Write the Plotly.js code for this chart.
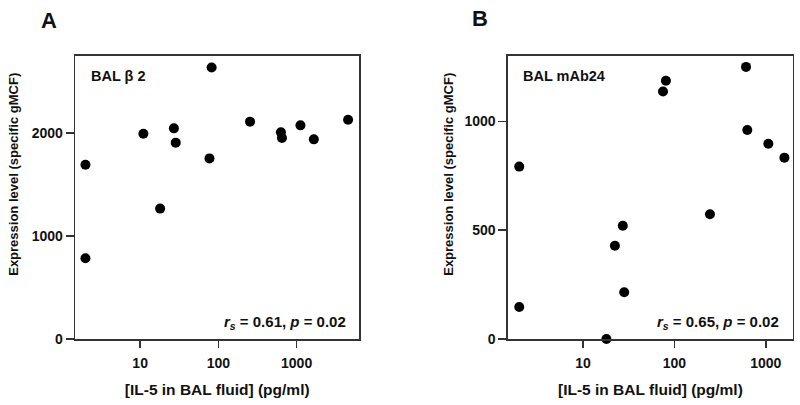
<!DOCTYPE html>
<html>
<head>
<meta charset="utf-8">
<script src="https://cdn.plot.ly/plotly-3.0.1.min.js"></script>
<style>html,body{margin:0;padding:0;background:#fff}#chart{width:800px;height:405px}</style>
</head>
<body>
<div id="chart"></div>
<script>
// Panel A: BAL beta2
const il5A = [2, 2, 11, 18, 27, 28.5, 77, 82, 254, 630, 650, 1120, 1660, 4550];
const exprA = [1694, 784, 1995, 1267, 2047, 1908, 1755, 2639, 2112, 2008, 1953, 2076, 1940, 2131];
// Panel B: BAL mAb24
const il5B = [2, 2, 18, 22.3, 27.2, 28.2, 75, 80.7, 245, 608, 628, 1067, 1600];
const exprB = [792, 147, 0, 428, 520, 215, 1137, 1186, 573, 1250, 960, 897, 833];

const xTickVals = [10, 100, 1000];
const xTickText = ['10', '100', '1000'];
const yTickA = [0, 1000, 2000];
const yTickB = [0, 500, 1000];

const panelLabels = ['A', 'B'];
const boxLabels = ['BAL \u03b2 2', 'BAL mAb24'];
const statLabels = ['<i>r<sub>s</sub></i> = 0.61, <i>p</i> = 0.02', '<i>r<sub>s</sub></i> = 0.65, <i>p</i> = 0.02'];
const xTitle = '[IL-5 in BAL fluid] (pg/ml)';
const yTitle = 'Expression level (specific gMCF)';

const FONT = 'Liberation Sans, Arial, Helvetica, sans-serif';
const INK = '#111';
const LINE = '#333';

const marker = {color: '#000', size: 10};
const traces = [
  {x: il5A, y: exprA, type: 'scatter', mode: 'markers', marker: marker, xaxis: 'x', yaxis: 'y', cliponaxis: false, hoverinfo: 'x+y'},
  {x: il5B, y: exprB, type: 'scatter', mode: 'markers', marker: marker, xaxis: 'x2', yaxis: 'y2', cliponaxis: false, hoverinfo: 'x+y'}
];

function xAxis(domain, range, anchor) {
  return {
    type: 'log', domain: domain, range: range, anchor: anchor,
    tickvals: xTickVals, ticktext: xTickText,
    ticks: 'outside', ticklen: 7, tickwidth: 1.5, tickcolor: LINE,
    ticklabelstandoff: 4,
    showline: true, linecolor: LINE, linewidth: 1.6, mirror: true,
    showgrid: false, zeroline: false,
    tickfont: {family: FONT, size: 14, color: INK, weight: 'bold'},
    title: {text: xTitle, standoff: 14, font: {family: FONT, size: 15.5, color: INK, weight: 'bold'}}
  };
}
function yAxis(range, ticks, anchor) {
  return {
    domain: [0, 1], range: range, anchor: anchor,
    tickvals: ticks,
    ticks: 'outside', ticklen: 8, tickwidth: 1.5, tickcolor: LINE,
    showline: true, linecolor: LINE, linewidth: 1.6, mirror: true,
    showgrid: false, zeroline: false,
    tickfont: {family: FONT, size: 14, color: INK, weight: 'bold'}
  };
}
function yTitleAnn(xpx) {
  return {text: yTitle, xref: 'paper', yref: 'paper', x: xpx / 800, y: (339.5 - 175) / 283.5,
    xanchor: 'center', yanchor: 'middle', textangle: -90, showarrow: false,
    font: {family: FONT, size: 13, color: INK, weight: 'bold'}};
}
const statFont = {family: FONT, size: 15, color: INK, weight: 'bold'};

const layout = {
  width: 800, height: 405,
  margin: {l: 0, r: 0, t: 56, b: 66},
  paper_bgcolor: '#fff', plot_bgcolor: '#fff',
  showlegend: false,
  xaxis: xAxis([0.094, 0.449], [0.17, 3.80], 'y'),
  yaxis: yAxis([0, 2750], yTickA, 'x'),
  xaxis2: xAxis([0.635, 0.991], [0.178, 3.296], 'y2'),
  yaxis2: yAxis([0, 1300], yTickB, 'x2'),
  annotations: [
    yTitleAnn(14),
    yTitleAnn(449),
    {text: panelLabels[0], xref: 'paper', yref: 'paper', x: 48.5 / 800, y: 1.127, xanchor: 'center', yanchor: 'middle', showarrow: false, font: {family: FONT, size: 22, color: INK, weight: 'bold'}},
    {text: panelLabels[1], xref: 'paper', yref: 'paper', x: 479.5 / 800, y: 1.134, xanchor: 'center', yanchor: 'middle', showarrow: false, font: {family: FONT, size: 22, color: INK, weight: 'bold'}},
    {text: boxLabels[0], xref: 'x domain', yref: 'y domain', x: 0.05, y: 0.93, xanchor: 'left', yanchor: 'middle', showarrow: false, font: {family: FONT, size: 14.5, color: INK, weight: 'bold'}},
    {text: boxLabels[1], xref: 'x2 domain', yref: 'y2 domain', x: 0.045, y: 0.93, xanchor: 'left', yanchor: 'middle', showarrow: false, font: {family: FONT, size: 14.5, color: INK, weight: 'bold'}},
    {text: statLabels[0], xref: 'x domain', yref: 'y domain', x: 0.96, y: 0.06, xanchor: 'right', yanchor: 'middle', showarrow: false, font: statFont},
    {text: statLabels[1], xref: 'x2 domain', yref: 'y2 domain', x: 0.96, y: 0.06, xanchor: 'right', yanchor: 'middle', showarrow: false, font: statFont}
  ]
};

Plotly.newPlot('chart', traces, layout, {displayModeBar: false, staticPlot: true});
</script>
</body>
</html>
